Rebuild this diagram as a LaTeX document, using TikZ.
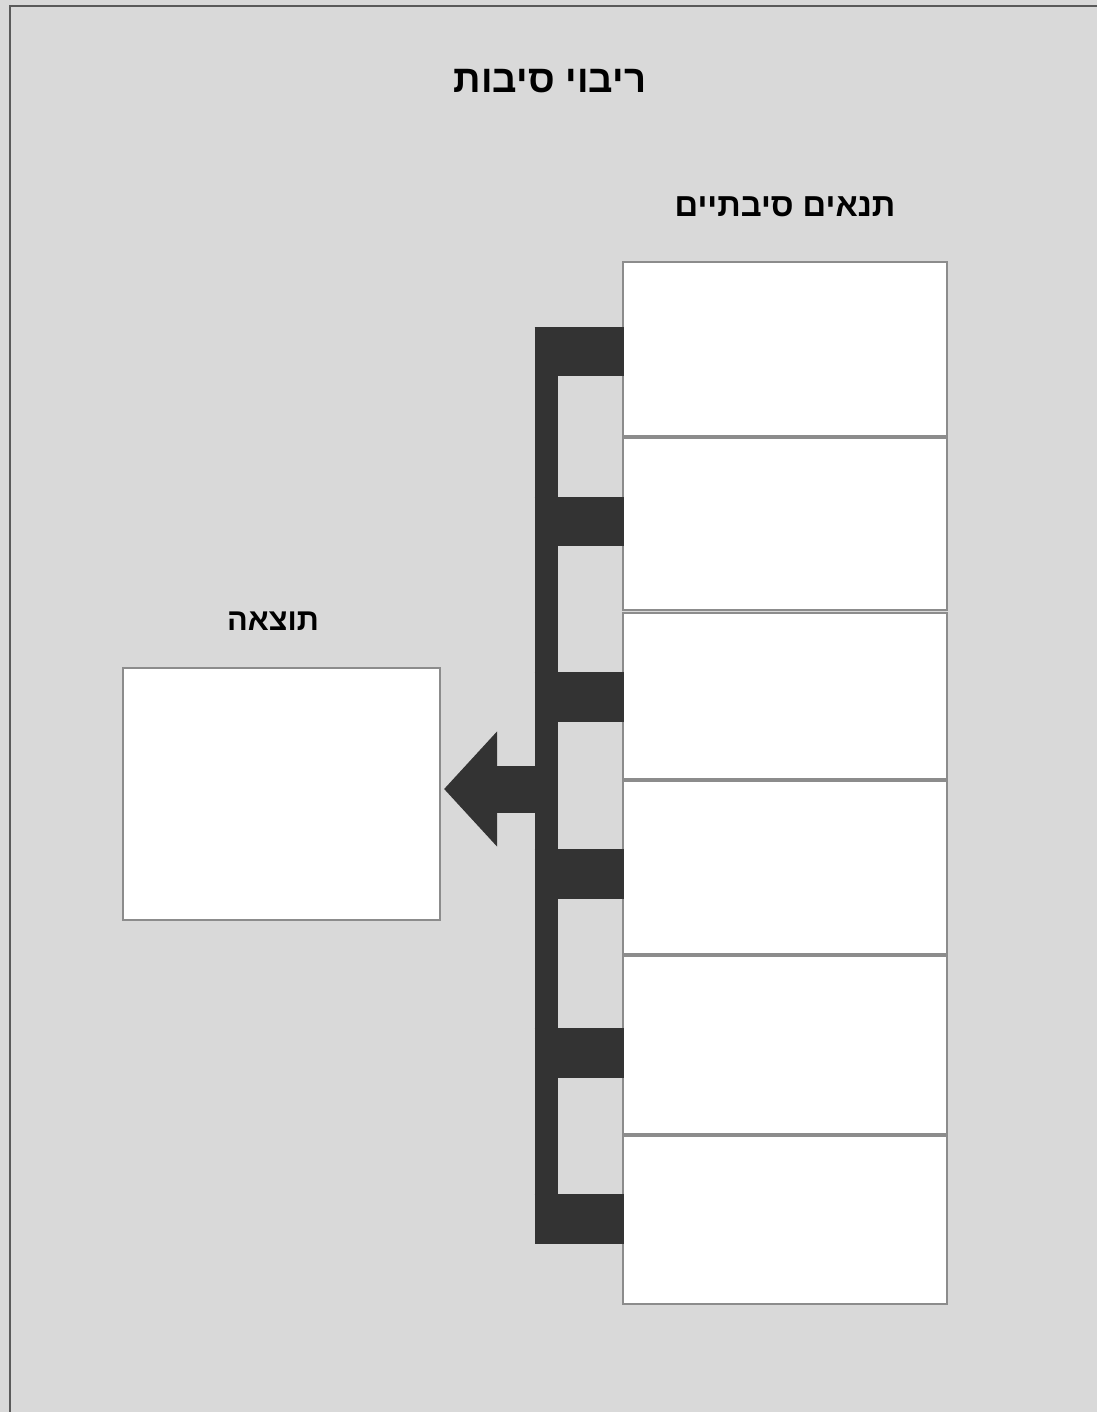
\documentclass[tikz,border=0pt]{standalone}
\usepackage{fontspec}
\usepackage{tikz}
\usetikzlibrary{arrows.meta, positioning, calc}
\TeXXeTstate=1
\newfontfamily\hebfont[Script=Hebrew]{Liberation Sans}
\definecolor{pagegray}{HTML}{D9D9D9}
\definecolor{combdark}{HTML}{333333}
\definecolor{edgegray}{HTML}{8C8C8C}
\definecolor{framegray}{HTML}{5A5A5A}

\begin{document}
\begin{tikzpicture}[
  x=0.02cm, y=-0.02cm,
  every node/.style={font=\hebfont\bfseries\fontsize{18.6}{22}\selectfont},
  bigtitle/.style={font=\hebfont\bfseries\fontsize{21.8}{26}\selectfont},
  smallhead/.style={font=\hebfont\bfseries\fontsize{17.5}{21}\selectfont},
  cellbox/.style={draw=edgegray, fill=white, line width=1.2pt, minimum width=6.48cm, inner sep=0pt},
  outbox/.style={draw=edgegray, fill=white, line width=1.2pt, minimum width=6.34cm, minimum height=5.04cm, inner sep=0pt},
  spinebar/.style={fill=combdark, minimum width=0.46cm, minimum height=18.34cm, inner sep=0pt},
  tab/.style={draw=combdark, line width=1cm},
  pointer/.style={draw=combdark, line width=0.94cm, -{Triangle[length=1.06cm, width=2.24cm]}}
]
  \useasboundingbox (0,0) rectangle (1097,1412);
  \fill[pagegray] (0,0) rectangle (1097,1412);
  \draw[framegray, line width=1.5pt] (10,6) rectangle (1120,1430);

  % titles
  \node[bigtitle] (title) at (550,81) {\beginR ריבוי סיבות\endR};
  \node (condhead) at (785,207) {\beginR תנאים סיבתיים\endR};
  \node[smallhead] (reshead) at (273,621) {\beginR תוצאה\endR};

  % result box
  \node[outbox] (res) at (281.5,794) {};

  % causal condition boxes
  \foreach \top/\bot [count=\i] in {262/436, 438/610, 613/779, 781/954, 956/1134, 1136/1304}
    \node[cellbox, minimum height={(\bot-\top)*0.02cm}] (c\i) at (785,{(\top+\bot)/2}) {};

  % comb connector
  \node[spinebar] (spine) at (546.5,785.5) {};
  \foreach \i/\ty in {1/351.5, 2/521.5, 3/696.5, 4/873.5, 5/1052.5, 6/1219}
    \draw[tab] (spine.west |- 0,\ty) -- ([xshift=0.04cm]c\i.west |- 0,\ty);

  \coordinate (hub) at (spine.west |- 0,789);
  \draw[pointer] (hub) -- ([xshift=0.06cm]hub -| res.east);

\end{tikzpicture}
\end{document}
